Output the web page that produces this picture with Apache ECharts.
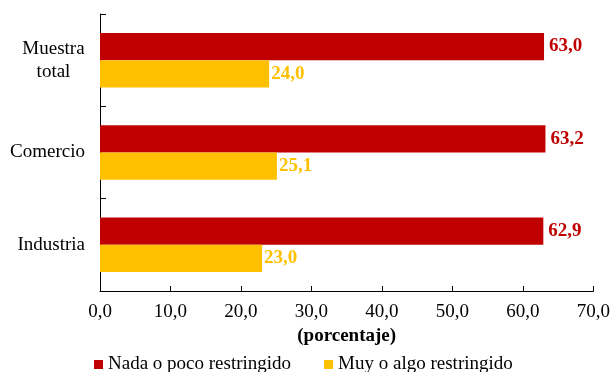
<!DOCTYPE html>
<html>
<head>
<meta charset="utf-8">
<script src="https://cdn.jsdelivr.net/npm/echarts@6/dist/echarts.min.js"></script>
<style>
  html, body { margin: 0; padding: 0; background: #fff; }
  #chart { width: 613px; height: 372px; }
</style>
</head>
<body>
<div id="chart"></div>
<script>
const categories = ['Muestra\ntotal', 'Comercio', 'Industria'];
const nadaPoco = [63.0, 63.2, 62.9];
const muyAlgo = [24.0, 25.1, 23.0];
const seriesNames = ['Nada o poco restringido', 'Muy o algo restringido'];
const axisTitle = '(porcentaje)';

const serif = '"Liberation Serif", "Times New Roman", serif';
const fmt = v => v.toFixed(1).replace('.', ',');

// category labels: the block is right-aligned, lines of a two-line label are centred
const catLabel = v => v.indexOf('\n') >= 0
  ? v.split('\n').map(s => '{c|' + s + '}').join('\n')
  : v;

const chart = echarts.init(document.getElementById('chart'));
chart.setOption({
  animation: false,
  textStyle: { fontFamily: serif },
  grid: { left: 100, right: 19, top: 14, bottom: 81, containLabel: false },
  legend: {
    top: 355,
    left: 94,
    padding: 0,
    itemWidth: 9,
    itemHeight: 9,
    itemGap: 33,
    icon: 'rect',
    textStyle: { fontFamily: serif, fontSize: 19, color: '#000' },
    data: seriesNames
  },
  xAxis: {
    type: 'value',
    min: 0,
    max: 70,
    interval: 10,
    name: axisTitle,
    nameLocation: 'middle',
    nameGap: 33,
    nameTextStyle: { fontFamily: serif, fontSize: 19, fontWeight: 'bold', color: '#000' },
    axisLine: { show: true, lineStyle: { color: '#000', width: 1 } },
    axisTick: { show: true, inside: true, length: 5, lineStyle: { color: '#000' } },
    axisLabel: { formatter: fmt, fontFamily: serif, fontSize: 19, color: '#000', margin: 12 },
    splitLine: { show: false }
  },
  yAxis: {
    type: 'category',
    inverse: true,
    data: categories,
    axisLine: { show: true, lineStyle: { color: '#000', width: 1 } },
    axisTick: { show: true, inside: true, length: 6, lineStyle: { color: '#000' } },
    axisLabel: {
      formatter: catLabel,
      fontFamily: serif, fontSize: 19, color: '#000', margin: 15, align: 'right', lineHeight: 23,
      rich: { c: { width: 63, align: 'center', fontFamily: serif, fontSize: 19, color: '#000', lineHeight: 23 } }
    }
  },
  series: [
    {
      name: seriesNames[0],
      type: 'bar',
      data: nadaPoco,
      barGap: '0%',
      barCategoryGap: '41%',
      itemStyle: { color: '#C00000' },
      label: {
        show: true, position: 'right', distance: 5,
        formatter: p => fmt(p.value),
        fontFamily: serif, fontSize: 19, fontWeight: 'bold', color: '#C00000'
      }
    },
    {
      name: seriesNames[1],
      type: 'bar',
      data: muyAlgo,
      barGap: '0%',
      barCategoryGap: '41%',
      itemStyle: { color: '#FFC000' },
      label: {
        show: true, position: 'right', distance: 2,
        formatter: p => fmt(p.value),
        fontFamily: serif, fontSize: 19, fontWeight: 'bold', color: '#FFC000'
      }
    }
  ]
});
</script>
</body>
</html>
